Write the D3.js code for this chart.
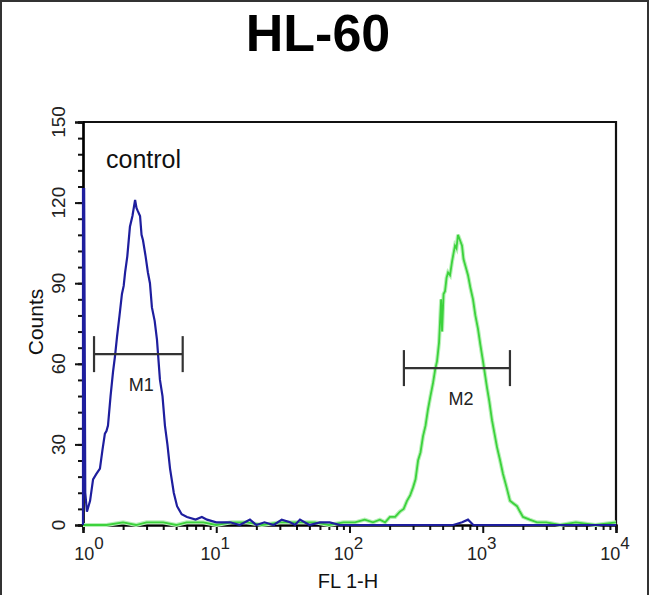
<!DOCTYPE html>
<html><head><meta charset="utf-8">
<script src="https://cdn.jsdelivr.net/npm/d3@7"></script>
<style>body{margin:0;background:#fff}svg{display:block}text{font-family:"Liberation Sans",Arial,sans-serif}</style>
</head><body><svg id="c" width="650" height="595"></svg>
<script>
const title = "HL-60";
const xLabel = "FL 1-H";
const yLabel = "Counts";
const sampleLabel = "control";
const yTicks = [0, 30, 60, 90, 120, 150];
const xDecades = [0, 1, 2, 3, 4];

// control histogram (blue): FL1-H value, counts
const blueX = [1.0, 1.0, 1.02, 1.04, 1.07, 1.10, 1.13, 1.19, 1.26, 1.34, 1.40, 1.46, 1.50, 1.54, 1.61, 1.68, 1.74, 1.80, 1.88, 1.96, 2.02, 2.07, 2.15, 2.25, 2.35, 2.46, 2.52, 2.57, 2.68, 2.75, 2.82, 2.95, 3.07, 3.18, 3.29, 3.45, 3.59, 3.78, 3.95, 4.12, 4.3, 4.5, 4.8, 5.08, 5.5, 6.03, 7.0, 7.8, 8.53, 10, 12.7, 15, 17.9, 20, 23, 27, 31, 35.8, 39, 42.5, 50, 60, 71, 85, 100, 150, 250, 400, 600, 700, 775, 850, 1000, 2000, 4000, 10000];
const blueY = [0, 125, 125, 12, 5, 7, 9, 17, 19, 21, 28, 34, 35, 37, 48, 57, 63, 70, 78, 86, 89, 94, 100, 111, 115, 121, 118, 117, 115, 108, 106, 100, 94, 90, 81, 76, 69, 54, 48, 37, 30, 21, 12, 7, 4, 3, 2, 3, 2, 1, 1, 0, 2, 0, 1, 0, 2, 1, 0, 2, 0, 1, 1, 0, 0, 0, 0, 0, 0, 1, 2, 0, 0, 0, 0, 0];

// sample histogram (green)
const greenX = [1, 1.5, 2, 2.5, 3, 4, 5, 6, 8, 10, 13, 17, 22, 30, 40, 55, 70, 90, 110, 130, 150, 169, 185, 201, 220, 239, 255, 270, 285, 300, 313, 327, 341, 356, 372, 388, 405, 424, 440, 454, 470, 487, 495, 508, 521, 535, 549, 568, 588, 603, 619, 635, 652, 675, 699, 717, 736, 755, 775, 810, 845, 880, 921, 960, 1004, 1040, 1077, 1120, 1173, 1225, 1279, 1350, 1419, 1510, 1601, 1700, 1807, 1900, 2005, 2250, 2554, 3000, 3802, 5000, 7000, 10000];
const greenY = [0, 0, 1, 0, 1, 1, 0, 1, 1, 0, 1, 1, 0, 1, 1, 1, 0, 1, 1, 2, 1, 2, 1, 3, 3, 5, 6, 9, 11, 14, 17, 24, 27, 33, 37, 43, 48, 53, 58, 61, 68, 84, 72, 86, 87, 92, 94, 93, 98, 101, 104, 103, 108, 106, 104, 99, 97, 95, 93, 88, 84, 78, 73, 67, 61, 56, 51, 46, 39, 34, 29, 24, 19, 14, 9, 8, 7, 5, 3, 2, 1, 1, 0, 1, 0, 1];

// gates
const gateNames = ["M1", "M2"];
const gateLo = [1.21, 256];
const gateHi = [5.6, 1600];
const gateY = [63.6, 58.4];

const svg = d3.select("#c");
const L = 83, R = 616, T = 122, B = 525;
const x = d3.scaleLog().domain([1, 10000]).range([L, R]);
const y = d3.scaleLinear().domain([0, 150]).range([B, T]);

// outer frame
svg.append("path").attr("d", "M1,595V1H648V595").attr("fill", "none").attr("stroke", "#333").attr("stroke-width", 2);

svg.append("text").attr("x", 318).attr("y", 51).attr("text-anchor", "middle")
  .attr("font-size", 52).attr("font-weight", "bold").attr("fill", "#000").text(title);

// plot frame (top/right)
svg.append("path").attr("d", `M${L},${T}H${R}V${B}`).attr("fill", "none").attr("stroke", "#111").attr("stroke-width", 2.2);

// y axis
const yMinor = d3.range(0, 151, 6);
const yAx = svg.append("g").attr("transform", `translate(${L},0)`);
yAx.call(d3.axisLeft(y).tickValues(yMinor).tickSize(5).tickFormat(""));
yAx.append("g").call(d3.axisLeft(y).tickValues(yTicks).tickSize(8).tickFormat(""));
yAx.selectAll("path.domain").attr("stroke", "#000").attr("stroke-width", 2.2);
yAx.selectAll("line").attr("stroke", "#111").attr("stroke-width", 2);
yTicks.forEach(v => {
  yAx.append("text").attr("transform", `translate(-18,${y(v)}) rotate(-90)`)
    .attr("text-anchor", "middle").attr("font-size", 19).attr("fill", "#222").text(v);
});
svg.append("text").attr("transform", `translate(43,322) rotate(-90)`).attr("text-anchor", "middle")
  .attr("font-size", 21).attr("fill", "#111").text(yLabel);

// x axis
const xMinor = [];
for (let d = 0; d < 4; d++) for (let k = 2; k <= 9; k++) xMinor.push(k * Math.pow(10, d));
const xAx = svg.append("g").attr("transform", `translate(0,${B})`);
xAx.call(d3.axisBottom(x).tickValues(xMinor).tickSize(5).tickFormat(""));
xAx.append("g").call(d3.axisBottom(x).tickValues(xDecades.map(d => Math.pow(10, d))).tickSize(8).tickFormat(""));
xAx.selectAll("path.domain").attr("stroke", "#000").attr("stroke-width", 2.2);
xAx.selectAll("line").attr("stroke", "#111").attr("stroke-width", 2);
xDecades.forEach(d => {
  const t = svg.append("text").attr("x", x(Math.pow(10, d)) + (d === 0 ? 6 : -1)).attr("y", 560)
    .attr("text-anchor", "middle").attr("font-size", 18).attr("fill", "#222");
  t.append("tspan").text("10");
  t.append("tspan").attr("dy", -11).attr("font-size", 17).text(d);
});
svg.append("text").attr("x", 348).attr("y", 588).attr("text-anchor", "middle")
  .attr("font-size", 20).attr("fill", "#111").text(xLabel);

const line = d3.line().x(d => x(d[0])).y(d => y(d[1]));
const greenPts = greenX.map((v, i) => [v, greenY[i]]);
const bluePts = blueX.map((v, i) => [v, blueY[i]]);
svg.append("path").attr("d", line(greenPts)).attr("fill", "none").attr("stroke", "#b8f0b8").attr("stroke-width", 4);
svg.append("path").attr("d", line(greenPts)).attr("fill", "none").attr("stroke", "#3cd23c").attr("stroke-width", 1.8);
svg.append("path").attr("d", line(bluePts)).attr("fill", "none").attr("stroke", "#1e1e9e").attr("stroke-width", 2.2);

// gates
gateNames.forEach((n, i) => {
  const g = svg.append("g").attr("stroke", "#333").attr("stroke-width", 2.2);
  const yy = y(gateY[i]);
  g.append("line").attr("x1", x(gateLo[i])).attr("x2", x(gateHi[i])).attr("y1", yy).attr("y2", yy);
  g.append("line").attr("x1", x(gateLo[i])).attr("x2", x(gateLo[i])).attr("y1", yy - 18).attr("y2", yy + 18);
  g.append("line").attr("x1", x(gateHi[i])).attr("x2", x(gateHi[i])).attr("y1", yy - 18).attr("y2", yy + 18);
  svg.append("text").attr("x", (x(gateLo[i]) + x(gateHi[i])) / 2 + (i === 0 ? 3 : 4)).attr("y", yy + 37)
    .attr("text-anchor", "middle").attr("font-size", 18).attr("fill", "#222").text(n);
});

svg.append("text").attr("x", 106).attr("y", 168).attr("font-size", 25).attr("fill", "#111").text(sampleLabel);
</script></body></html>
